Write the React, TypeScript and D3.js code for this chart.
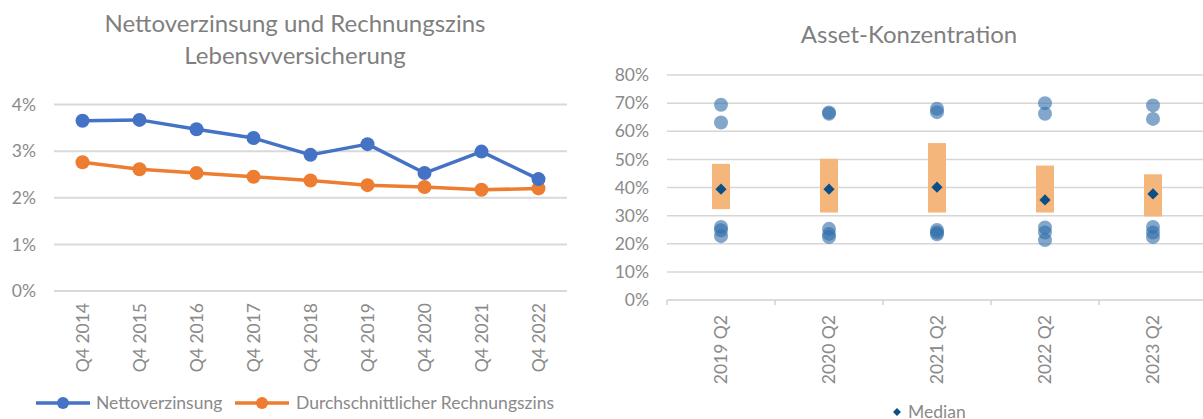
import React from "react";
import * as d3 from "d3";

// ---- Left chart data ----
const quarters = ["Q4 2014", "Q4 2015", "Q4 2016", "Q4 2017", "Q4 2018", "Q4 2019", "Q4 2020", "Q4 2021", "Q4 2022"];
const nettoverzinsung = [3.65, 3.67, 3.47, 3.28, 2.92, 3.15, 2.53, 2.99, 2.40];
const rechnungszins = [2.76, 2.61, 2.53, 2.45, 2.37, 2.27, 2.23, 2.17, 2.20];
const leftTicks = [0, 1, 2, 3, 4];

// ---- Right chart data ----
const assetCats = ["2019 Q2", "2020 Q2", "2021 Q2", "2022 Q2", "2023 Q2"];
const rangeLow = [32.3, 31.1, 31.1, 31.1, 29.7];
const rangeHigh = [48.4, 50.2, 55.8, 47.8, 44.7];
const medians = [39.4, 39.4, 40.1, 35.6, 37.7];
const dotHigh1 = [69.4, 66.7, 68.0, 70.0, 69.2];
const dotHigh2 = [63.1, 66.2, 66.8, 66.2, 64.4];
const dotLow1 = [26.0, 25.3, 24.9, 25.8, 26.0];
const dotLow2 = [24.8, 23.5, 24.0, 24.0, 24.0];
const dotLow3 = [22.7, 22.4, 23.4, 21.3, 22.4];
const rightTicks = [0, 10, 20, 30, 40, 50, 60, 70, 80];

const FONT = "Lato, 'Open Sans', sans-serif";
const GRAY = "#8a8a8a";
const LBL = 17.5;

export default function App() {
  // left scales
  const xL = d3.scaleBand<string>().domain(quarters).range([54, 567]);
  const yL = d3.scaleLinear().domain([0, 4]).range([291, 104.5]);
  const cxL = (q: string) => (xL(q) as number) + xL.bandwidth() / 2;
  const lineL = d3
    .line<number>()
    .x((_, i) => cxL(quarters[i]))
    .y((d) => yL(d));

  // right scales
  const xR = d3.scaleBand<string>().domain(assetCats).range([667, 1207]);
  const yR = d3.scaleLinear().domain([0, 80]).range([300, 75]);
  const cxR = (c: string) => (xR(c) as number) + xR.bandwidth() / 2;
  const barW = 18;
  const dotSets = [dotHigh1, dotHigh2, dotLow1, dotLow2, dotLow3];
  const diamond = d3.symbol().type(d3.symbolDiamond2).size(80)();
  const diamondSmall = d3.symbol().type(d3.symbolDiamond2).size(40)();

  return (
    <div style={{ position: "absolute", left: 0, top: 0 }}>
      <svg width={1203} height={419} style={{ display: "block", fontFamily: FONT }}>
        <rect width={1203} height={419} fill="#ffffff" />

        {/* ===== Left chart ===== */}
        <text x={295} y={32} textAnchor="middle" fontSize={24} fill="#7f7f7f">
          Nettoverzinsung und Rechnungszins
        </text>
        <text x={295} y={64} textAnchor="middle" fontSize={24} fill="#7f7f7f">
          Lebensvversicherung
        </text>
        {leftTicks.map((t) => (
          <g key={"lt" + t}>
            <line x1={54} x2={567} y1={yL(t)} y2={yL(t)} stroke="#d9d9d9" strokeWidth={2} />
            <text x={36} y={yL(t)} dy="0.35em" textAnchor="end" fontSize={LBL} fill={GRAY}>
              {t}%
            </text>
          </g>
        ))}
        {quarters.map((q) => (
          <text
            key={q}
            transform={`translate(${cxL(q)},303) rotate(-90)`}
            textAnchor="end"
            dy="0.35em"
            fontSize={LBL}
            fill={GRAY}
          >
            {q}
          </text>
        ))}
        <path d={lineL(rechnungszins) || ""} fill="none" stroke="#ED7D31" strokeWidth={3.5} strokeLinejoin="round" />
        {rechnungszins.map((v, i) => (
          <circle key={"o" + i} cx={cxL(quarters[i])} cy={yL(v)} r={7} fill="#ED7D31" />
        ))}
        <path d={lineL(nettoverzinsung) || ""} fill="none" stroke="#4472C4" strokeWidth={3.5} strokeLinejoin="round" />
        {nettoverzinsung.map((v, i) => (
          <circle key={"b" + i} cx={cxL(quarters[i])} cy={yL(v)} r={7} fill="#4472C4" />
        ))}

        {/* legend left */}
        <line x1={36} x2={90} y1={403} y2={403} stroke="#4472C4" strokeWidth={3.5} />
        <circle cx={63} cy={403} r={6} fill="#4472C4" />
        <text x={96} y={403} dy="0.35em" fontSize={LBL} fill={GRAY}>
          Nettoverzinsung
        </text>
        <line x1={235} x2={289} y1={403} y2={403} stroke="#ED7D31" strokeWidth={3.5} />
        <circle cx={262} cy={403} r={6} fill="#ED7D31" />
        <text x={296} y={403} dy="0.35em" fontSize={LBL} fill={GRAY}>
          Durchschnittlicher Rechnungszins
        </text>

        {/* ===== Right chart ===== */}
        <text x={909} y={43} textAnchor="middle" fontSize={24} fill="#7f7f7f">
          Asset-Konzentration
        </text>
        {rightTicks.map((t) => (
          <g key={"rt" + t}>
            {t > 0 && (
              <line x1={667} x2={1203} y1={yR(t)} y2={yR(t)} stroke="#d6d6d6" strokeWidth={1.5} />
            )}
            <text x={649} y={yR(t)} dy="0.35em" textAnchor="end" fontSize={LBL} fill={GRAY}>
              {t}%
            </text>
          </g>
        ))}
        <line x1={667} x2={1203} y1={yR(0)} y2={yR(0)} stroke="#d0d0d0" strokeWidth={1.5} />
        {assetCats.map((c) => (
          <line
            key={"tk" + c}
            x1={xR(c) as number}
            x2={xR(c) as number}
            y1={yR(0)}
            y2={yR(0) + 5}
            stroke="#d0d0d0"
            strokeWidth={1.5}
          />
        ))}
        {assetCats.map((c) => (
          <text
            key={"lbl" + c}
            transform={`translate(${cxR(c)},315) rotate(-90)`}
            textAnchor="end"
            dy="0.35em"
            fontSize={LBL}
            fill={GRAY}
          >
            {c}
          </text>
        ))}
        {assetCats.map((c, i) => (
          <rect
            key={"bar" + c}
            x={cxR(c) - barW / 2}
            y={yR(rangeHigh[i])}
            width={barW}
            height={yR(rangeLow[i]) - yR(rangeHigh[i])}
            fill="#F4B67A"
          />
        ))}
        {dotSets.map((set, s) =>
          set.map((v, i) => (
            <circle
              key={"d" + s + "_" + i}
              cx={cxR(assetCats[i])}
              cy={yR(v)}
              r={7}
              fill="#2E6DA8"
              fillOpacity={0.6}
            />
          ))
        )}
        {medians.map((v, i) => (
          <path
            key={"m" + i}
            d={diamond || ""}
            transform={`translate(${cxR(assetCats[i])},${yR(v)})`}
            fill="#0B4F86"
          />
        ))}

        {/* legend right */}
        <path d={diamondSmall || ""} transform="translate(897,412)" fill="#0B4F86" />
        <text x={908} y={418} fontSize={LBL} fill={GRAY}>
          Median
        </text>
      </svg>
    </div>
  );
}
